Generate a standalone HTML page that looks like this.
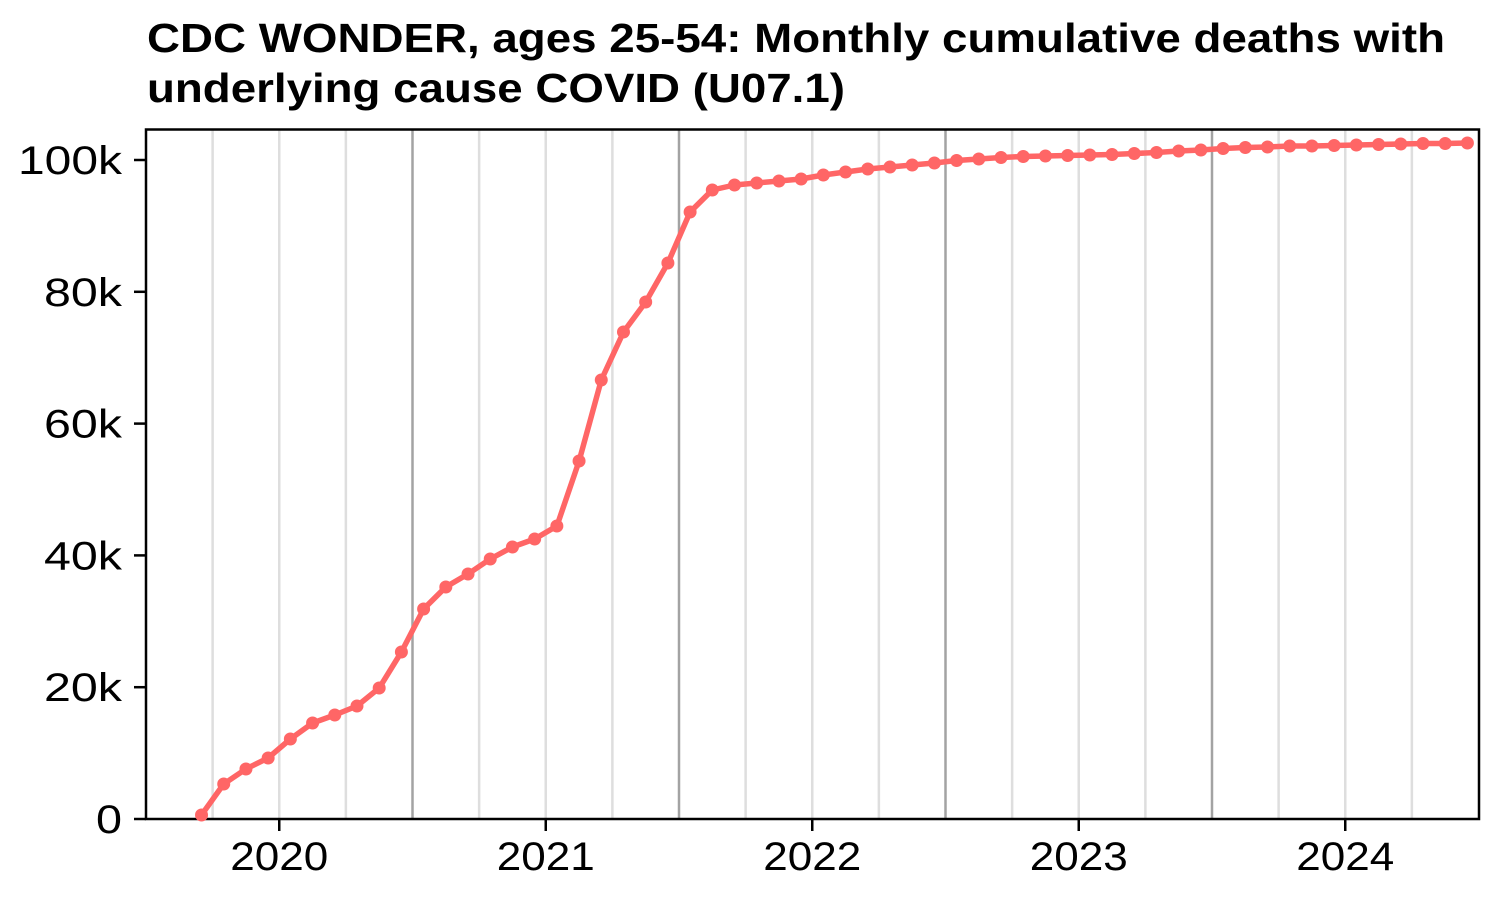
<!DOCTYPE html>
<html><head><meta charset="utf-8"><style>
html,body{margin:0;padding:0;background:#fff;}
svg text{font-family:"Liberation Sans",Arial,sans-serif;}
</style></head><body>
<svg id="s" width="1500" height="900" xmlns="http://www.w3.org/2000/svg">
<rect width="1500" height="900" fill="#fff"/>
<text x="147" y="52" font-size="41" font-weight="bold" textLength="1298" lengthAdjust="spacingAndGlyphs">CDC WONDER, ages 25-54: Monthly cumulative deaths with</text>
<text x="147" y="102" font-size="41" font-weight="bold" textLength="698" lengthAdjust="spacingAndGlyphs">underlying cause COVID (U07.1)</text>
<g id="grid"></g>
<rect x="146" y="129.5" width="1333" height="689.5" fill="none" stroke="#000" stroke-width="2.5"/>
<g id="ax" font-size="40"></g>
<g id="data"></g>
</svg>
<script>
var ns="http://www.w3.org/2000/svg";
function el(p,t,a,txt){var e=document.createElementNS(ns,t);for(var k in a)e.setAttribute(k,a[k]);if(txt!==undefined)e.textContent=txt;document.getElementById(p).appendChild(e);return e;}
var x0=146,yw=266.5,mw=yw/12;
for(var q=1;q<20;q++){var x=x0+q*yw/4;var major=q%4==0;
 el("grid","line",{x1:x,x2:x,y1:130,y2:819,stroke:major?"#a3a3a3":"#dedede","stroke-width":2.5});}
for(var i=0;i<=5;i++){var y=819-i*131.8;
 el("ax","line",{x1:134,x2:146,y1:y,y2:y,stroke:"#000","stroke-width":2.5});
 var lab=i==0?"0":(i*20)+"k";
 el("ax","text",{x:122,y:y+14,"text-anchor":"end",textLength:i==0?26:(i==5?104:78),lengthAdjust:"spacingAndGlyphs"},lab);}
for(var j=0;j<5;j++){var x=x0+j*yw+yw/2;
 el("ax","line",{x1:x,x2:x,y1:819,y2:831,stroke:"#000","stroke-width":2.5});
 el("ax","text",{x:x-49,y:870,textLength:98,lengthAdjust:"spacingAndGlyphs"},String(2020+j));}
var ys=[815,784,769,758,739,723,715,706,688,652,609,587,574,559,547,539,526,461,380,332,302,263,212,190,185,183,181,179,175,172,169,167,165,163,
160.5,159,157.5,156.5,156,155.5,155,154.5,153.5,152.5,151,150,
148.5,147.5,147,146,146,145.5,145,144.5,144,143.5,143.5,143];
var pts=[];for(var k=0;k<ys.length;k++){pts.push((x0+(k+2.5)*mw).toFixed(1)+","+ys[k]);}
el("data","polyline",{points:pts.join(" "),fill:"none",stroke:"#ff6666","stroke-width":5.5,"stroke-linejoin":"round"});
for(var k=0;k<ys.length;k++)el("data","circle",{cx:x0+(k+2.5)*mw,cy:ys[k],r:6.5,fill:"#ff6666"});
</script>
</body></html>
